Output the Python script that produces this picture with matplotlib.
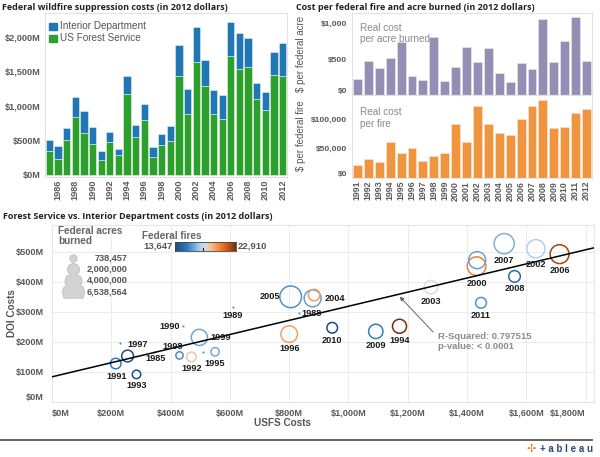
import numpy as np
import matplotlib
matplotlib.use("Agg")
import matplotlib.pyplot as plt
from matplotlib.colors import LinearSegmentedColormap, Normalize
from matplotlib.patches import Rectangle

# ---------------- data ----------------
years = list(range(1985, 2013))
usfs = [344, 230, 510, 833, 610, 442, 215, 470, 285, 1172, 550, 800, 255, 430,
        497, 1432, 884, 1632, 1278, 879, 805, 1712, 1525, 1560, 1092, 945, 1447, 1434]
doi = [167, 195, 167, 296, 315, 252, 128, 150, 92, 252, 167, 226, 153, 155,
       215, 452, 356, 510, 382, 345, 350, 492, 527, 418, 235, 247, 330, 472]

fed_years = list(range(1991, 2013))
cost_per_acre = [221, 479, 380, 521, 742, 268, 211, 812, 197, 390, 671, 465, 662, 310,
                 178, 446, 366, 1056, 465, 756, 1094, 474]
cost_per_fire = [22200, 33000, 27300, 61900, 43200, 51700, 29500, 36900, 43200, 92000,
                 61900, 122700, 90900, 76100, 72200, 99400, 122700, 133000, 85200,
                 86900, 110800, 116500]
acres = [1550000, 1290000, 990000, 2730000, 970000, 3830000, 1930000, 738457, 3610000,
         4840000, 1840000, 4610000, 2510000, 3990000, 6538564, 4940000, 5610000,
         1870000, 2850000, 1580000, 1620000, 4020000]
fires = [15500, 18800, 13800, 22910, 16600, 19800, 13800, 15900, 16500, 20500, 19900,
         17500, 18300, 16300, 16000, 22200, 16700, 14900, 15600, 13647, 16000, 16400]

size_legend_values = [738457, 2000000, 4000000, 6538564]
size_legend_labels = ["738,457", "2,000,000", "4,000,000", "6,538,564"]
fires_min, fires_max = 13647, 22910

# label offsets (pixels, right / down) for scatter year labels
label_offsets = {
    1985: (2, 7), 1988: (13, 0), 1989: (0, 8), 1990: (-13, 0), 1991: (1, 13),
    1992: (0, 12), 1993: (0, 11), 1994: (0, 14), 1995: (0, 12), 1996: (0, 14),
    1997: (10, -12), 1998: (-7, -9), 1999: (21, 0), 2000: (0, 17), 2002: (0, 16),
    2003: (0, 14), 2004: (22, 0), 2005: (-21, 0), 2006: (0, 16), 2007: (0, 17),
    2008: (0, 12), 2009: (0, 14), 2010: (0, 13), 2011: (0, 13),
}

# ---------------- styling ----------------
W, H = 600, 457
FONT = "Liberation Sans"
TFONT = "Open Sans"
TICKC = "#595959"
BLUE = "#1f77b4"
GREEN = "#2ca02c"
PURPLE = "#958eb4"
ORANGE = "#f0953f"
plt.rcParams["font.family"] = [FONT, "DejaVu Sans"]

fig = plt.figure(figsize=(W / 100, H / 100), dpi=100)
fig.patch.set_facecolor("white")


def px_axes(x0, y0, x1, y1):
    return fig.add_axes([x0 / W, 1 - y1 / H, (x1 - x0) / W, (y1 - y0) / H])


def ftext(x, y, s, **kw):
    return fig.text(x / W, 1 - y / H, s, **kw)


def frame(ax, color="#e3e3e3"):
    for sp in ax.spines.values():
        sp.set_color(color)
        sp.set_linewidth(0.8)
    ax.tick_params(length=0, colors=TICKC)


def money(v, suffix=""):
    return "${:,.0f}{}".format(v, suffix)


TS = 6.5  # title size

# ---------------- top-left stacked bars ----------------
ftext(2, 7, "Federal wildfire suppression costs (in 2012 dollars)", fontsize=TS,
      fontweight="bold", family=TFONT, va="center", color="#222222")
ax1 = px_axes(45, 13, 287, 177)
ax1.bar(years, usfs, width=0.84, color=GREEN, edgecolor="#e8f4e8", linewidth=0.4)
ax1.bar(years, doi, bottom=usfs, width=0.84, color=BLUE, edgecolor="#e3eef8", linewidth=0.4)
ax1.set_xlim(1984.5, 2012.5)
ax1.set_ylim(-30, 2340)
frame(ax1)
ax1.set_yticks([0, 500, 1000, 1500, 2000])
ax1.set_yticklabels([money(v, "M") for v in [0, 500, 1000, 1500, 2000]],
                    fontsize=6.6, fontweight="bold", color=TICKC)
ax1.set_xticks(list(range(1986, 2013, 2)))
ax1.set_xticklabels([str(y) for y in range(1986, 2013, 2)], rotation=90,
                    fontsize=6.6, fontweight="bold", color=TICKC)
ax1.tick_params(axis="x", pad=2)
ax1.tick_params(axis="y", pad=3)
# legend
for i, (lab, col) in enumerate([("Interior Department", BLUE), ("US Forest Service", GREEN)]):
    yy = 26 + i * 12
    fig.patches.append(Rectangle(((49) / W, 1 - (yy + 4) / H), 7.5 / W, 7.5 / H,
                                 transform=fig.transFigure, color=col))
    ftext(60, yy, lab, fontsize=7.2, color="#555555", va="center")

# ---------------- top-right per acre / per fire ----------------
ftext(296, 7, "Cost per federal fire and acre burned (in 2012 dollars)", fontsize=TS,
      fontweight="bold", family=TFONT, va="center", color="#222222")
ax2 = px_axes(352, 13, 592, 95)
ax2.bar(fed_years, cost_per_acre, width=0.82, color=PURPLE, edgecolor="#eceaf3", linewidth=0.4)
ax2.set_xlim(1990.5, 2012.5)
ax2.set_ylim(0, 1145)
frame(ax2)
ax2.set_xticks([])
ax2.set_yticks([0, 500, 1000])
ax2.set_yticklabels(["$0", "$500", "$1,000"], fontsize=6.1, fontweight="bold", color=TICKC)
ax2.get_yticklabels()[0].set_va("bottom")
ax2.text(0.035, 0.88, "Real cost\nper acre burned", transform=ax2.transAxes, fontsize=7.2,
         color="#8a8a8a", va="top", ha="left", linespacing=1.15)
ftext(301, 54, "$ per federal acre", rotation=90, fontsize=7.0, color="#555555",
      ha="center", va="center")

ax3 = px_axes(352, 95, 592, 178)
ax3.bar(fed_years, cost_per_fire, width=0.82, color=ORANGE, edgecolor="#fbe6d2", linewidth=0.4)
ax3.set_xlim(1990.5, 2012.5)
ax3.set_ylim(0, 141000)
frame(ax3)
ax3.set_yticks([0, 50000, 100000])
ax3.set_yticklabels(["$0", "$50,000", "$100,000"], fontsize=6.1, fontweight="bold", color=TICKC)
ax3.get_yticklabels()[0].set_va("bottom")
ax3.set_xticks(fed_years)
ax3.set_xticklabels([str(y) for y in fed_years], rotation=90, fontsize=6.4,
                    fontweight="bold", color=TICKC)
ax3.tick_params(axis="x", pad=2)
ax3.text(0.035, 0.85, "Real cost\nper fire", transform=ax3.transAxes, fontsize=7.2,
         color="#8a8a8a", va="top", ha="left", linespacing=1.15)
ftext(301, 136, "$ per federal fire", rotation=90, fontsize=7.0, color="#555555",
      ha="center", va="center")

# ---------------- bottom scatter ----------------
ftext(3, 217, "Forest Service vs. Interior Department costs (in 2012 dollars)", fontsize=TS,
      fontweight="bold", family=TFONT, va="center", color="#222222")
ax4 = px_axes(52, 225, 594, 402)
ax4.set_xlim(0, 1828)
ax4.set_ylim(0, 589)
frame(ax4, "#e6e6e6")
xt = list(range(0, 1801, 200))
yt = list(range(0, 501, 100))
ax4.set_xticks(xt)
ax4.set_yticks(yt)
ax4.set_xticklabels([money(v, "M") for v in xt], fontsize=6.6, fontweight="bold", color=TICKC)
ax4.set_yticklabels([money(v, "M") for v in yt], fontsize=6.6, fontweight="bold", color=TICKC)
ax4.get_xticklabels()[0].set_ha("left")
ax4.get_xticklabels()[-1].set_ha("right")
ax4.get_yticklabels()[0].set_va("bottom")
ax4.tick_params(axis="x", pad=5)
ax4.tick_params(axis="y", pad=6)
ax4.grid(True, color="#ececec", linewidth=0.7)
ax4.set_axisbelow(True)

cmap = LinearSegmentedColormap.from_list("ob", [
    (0.0, "#1b4a80"), (0.2, "#2f7bc0"), (0.4, "#a5cfee"), (0.5, "#d9dcdf"),
    (0.6, "#f9b984"), (0.8, "#ea6b1c"), (1.0, "#7a2d08")])
norm = Normalize(fires_min, fires_max)


def acre_size(a):
    r_px = np.sqrt(18 * a / 1e6)
    return (2 * r_px * 0.72) ** 2


fed_idx = {y: i for i, y in enumerate(fed_years)}
# null-acre years as tiny dots
for y, u, d in zip(years, usfs, doi):
    if y not in fed_idx:
        ax4.scatter([u], [d], s=2.5, color="#5b93c7", zorder=3, linewidths=0)
# circles, big first
order = sorted([y for y in years if y in fed_idx], key=lambda y: -acres[fed_idx[y]])
for y in order:
    i = years.index(y)
    j = fed_idx[y]
    ax4.scatter([usfs[i]], [doi[i]], s=acre_size(acres[j]), facecolors="none",
                edgecolors=[cmap(norm(fires[j]))], linewidths=1.1, zorder=3)

# trend line
coef = np.polyfit(usfs, doi, 1)
xl = np.array([0, 1828])
ax4.plot(xl, np.polyval(coef, xl), color="black", lw=1.1, zorder=4)

for y, u, d in zip(years, usfs, doi):
    if y in label_offsets:
        dx, dy = label_offsets[y]
        ax4.annotate(str(y), (u, d), xytext=(dx * 0.72, -dy * 0.72), textcoords="offset points",
                     ha="center", va="center", fontsize=6.6, fontweight="bold",
                     color="#1a1a1a", zorder=5)

# r-squared annotation
ax4.annotate("", xy=(1166, np.polyval(coef, 1166)), xytext=(1292, 226),
             arrowprops=dict(arrowstyle="-|>", color="#666666", lw=0.7, mutation_scale=6))
ax4.text(1303, 233, "R-Squared: 0.797515\np-value: < 0.0001", fontsize=6.8,
         fontweight="bold", color="#8c8c8c", va="top", ha="left", linespacing=1.2)

ftext(12, 313, "DOI Costs", rotation=90, fontsize=7.2, color="#555555", ha="center",
      va="center", fontweight="bold")
ftext(282, 423, "USFS Costs", fontsize=7.2, color="#555555", ha="center", va="center",
      fontweight="bold")

# size legend
ftext(58, 236, "Federal acres\nburned", fontsize=7.2, color="#666666", fontweight="bold",
      va="center", linespacing=1.1)
lax = px_axes(52, 226, 140, 300)
lax.set_xlim(52, 140)
lax.set_ylim(300, 226)
lax.axis("off")
row_y = [257.5, 269, 280.5, 292]
for yy, val, lab in zip(row_y, size_legend_values, size_legend_labels):
    sc = lax.scatter([72.7], [yy], s=acre_size(val), color="#d3d3d3", edgecolors="#bdbdbd",
                     linewidths=0.6)
    clip = Rectangle((52, yy - 5.8), 40, 11.6, transform=lax.transData)
    sc.set_clip_path(clip)
    lax.text(127.5, yy, lab, ha="right", va="center", fontsize=6.6, color="#555555",
             fontweight="bold")

# color legend
ftext(141.5, 236, "Federal fires", fontsize=7.2, color="#666666", fontweight="bold",
      va="center")
cax = px_axes(174.5, 241.5, 235.5, 250.5)
cax.imshow(np.linspace(0, 1, 256)[None, :], aspect="auto", cmap=cmap, extent=(0, 1, 0, 1))
cax.set_xticks([])
cax.set_yticks([])
for sp in cax.spines.values():
    sp.set_color("#444444")
    sp.set_linewidth(0.6)
cax.plot([0.47, 0.47], [0, 0.3], color="#222222", lw=0.8)
ftext(172.5, 246, "{:,}".format(fires_min), ha="right", va="center", fontsize=6.8,
      color="#555555", fontweight="bold")
ftext(237.5, 246, "{:,}".format(fires_max), ha="left", va="center", fontsize=6.8,
      color="#555555", fontweight="bold")

# footer
fig.add_artist(plt.Line2D([0, 592 / W], [1 - 439.5 / H, 1 - 439.5 / H],
                          transform=fig.transFigure, color="#555555", lw=1.3))
ftext(531, 448.5, "\u2722", fontsize=8, color="#e8762b", ha="center", va="center",
      family="DejaVu Sans")
ftext(540, 448.5, "+ a b l e a u", fontsize=7, color="#2b4a7a", ha="left", va="center",
      fontweight="bold")

fig.savefig("out.png", dpi=100, facecolor="white")
